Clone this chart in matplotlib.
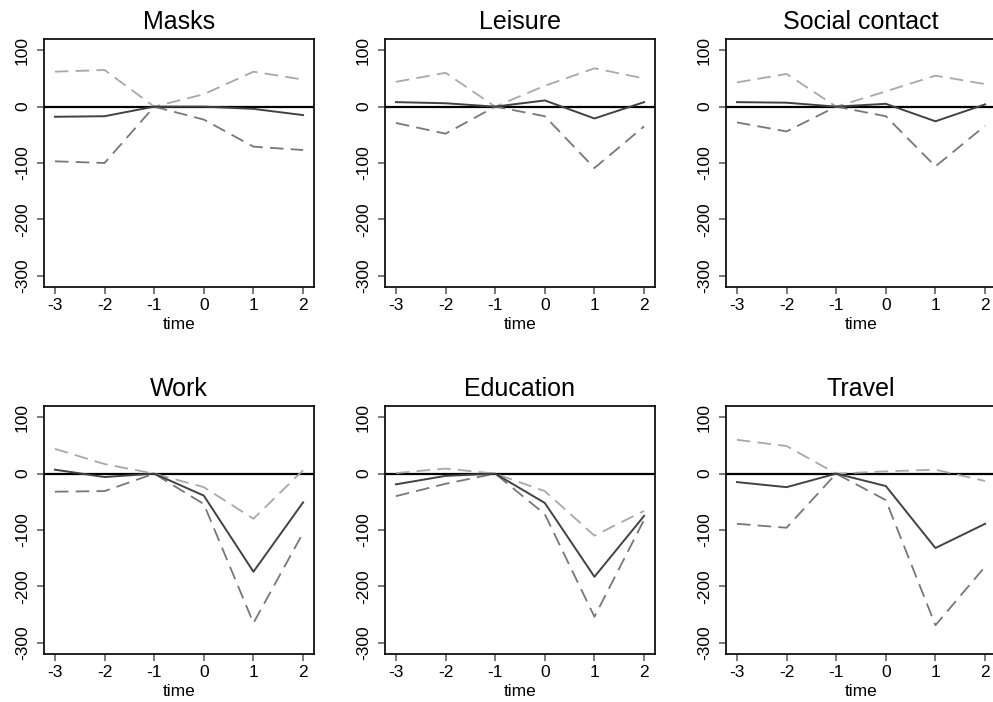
import matplotlib
matplotlib.use("Agg")
import matplotlib.pyplot as plt

plt.rcParams['font.family'] = ['Liberation Sans', 'DejaVu Sans']

# Event time relative to the reference period (-1)
time = [-3, -2, -1, 0, 1, 2]

titles = ["Masks", "Leisure", "Social contact", "Work", "Education", "Travel"]

# Point estimates
est_masks = [-18, -17, 0, 0, -4, -15]
est_leisure = [8, 6, 0, 11, -21, 8]
est_social = [8, 7, 0, 5, -26, 4]
est_work = [7, -6, 0, -39, -174, -51]
est_education = [-19, -4, 0, -52, -183, -75]
est_travel = [-15, -24, 0, -22, -132, -89]

# Upper confidence bounds
hi_masks = [62, 65, 0, 22, 62, 48]
hi_leisure = [44, 60, 0, 37, 68, 50]
hi_social = [43, 58, 0, 27, 55, 40]
hi_work = [44, 17, 0, -24, -80, 6]
hi_education = [1, 9, 0, -31, -110, -66]
hi_travel = [60, 49, 0, 4, 7, -13]

# Lower confidence bounds
lo_masks = [-97, -100, 0, -23, -71, -77]
lo_leisure = [-29, -48, 0, -17, -109, -35]
lo_social = [-28, -44, 0, -17, -106, -34]
lo_work = [-32, -31, 0, -54, -265, -105]
lo_education = [-40, -18, 0, -72, -254, -82]
lo_travel = [-89, -96, 0, -47, -269, -165]

estimates = [est_masks, est_leisure, est_social, est_work, est_education, est_travel]
upper = [hi_masks, hi_leisure, hi_social, hi_work, hi_education, hi_travel]
lower = [lo_masks, lo_leisure, lo_social, lo_work, lo_education, lo_travel]

yticks = [-300, -200, -100, 0, 100]

W, H = 993, 702
fig = plt.figure(figsize=(W / 100, H / 100), dpi=100)

col_left = [44, 385, 726]
row_top = [39, 406]
ax_w, ax_h = 270, 248

for i, title in enumerate(titles):
    r, c = divmod(i, 3)
    left = col_left[c] / W
    bottom = 1 - (row_top[r] + ax_h) / H
    ax = fig.add_axes([left, bottom, ax_w / W, ax_h / H])

    ax.axhline(0, color='black', lw=1.6, zorder=1)
    ax.plot(time, lower[i], color='#777777', lw=1.3, dashes=(7.5, 4), zorder=2)
    ax.plot(time, upper[i], color='#a8a8a8', lw=1.3, dashes=(7.5, 4), zorder=2)
    ax.plot(time, estimates[i], color='#424242', lw=1.4, zorder=3)

    ax.set_xlim(-3.22, 2.22)
    ax.set_ylim(-320, 120)
    ax.set_xticks(time)
    ax.set_xticklabels([str(t) for t in time])
    ax.set_yticks(yticks)
    ax.set_yticklabels([str(v) for v in yticks], rotation=90, va='center')

    ax.tick_params(axis='both', length=5, width=1.1, color='#555555',
                   labelsize=12.5, labelcolor='black')
    ax.tick_params(axis='x', pad=3)
    ax.tick_params(axis='y', pad=5)
    for s in ax.spines.values():
        s.set_color('#111111')
        s.set_linewidth(1.3)

    ax.set_title(title, fontsize=18, pad=7)
    ax.set_xlabel("time", fontsize=12.5, labelpad=3)

fig.savefig("out.png", dpi=100)
